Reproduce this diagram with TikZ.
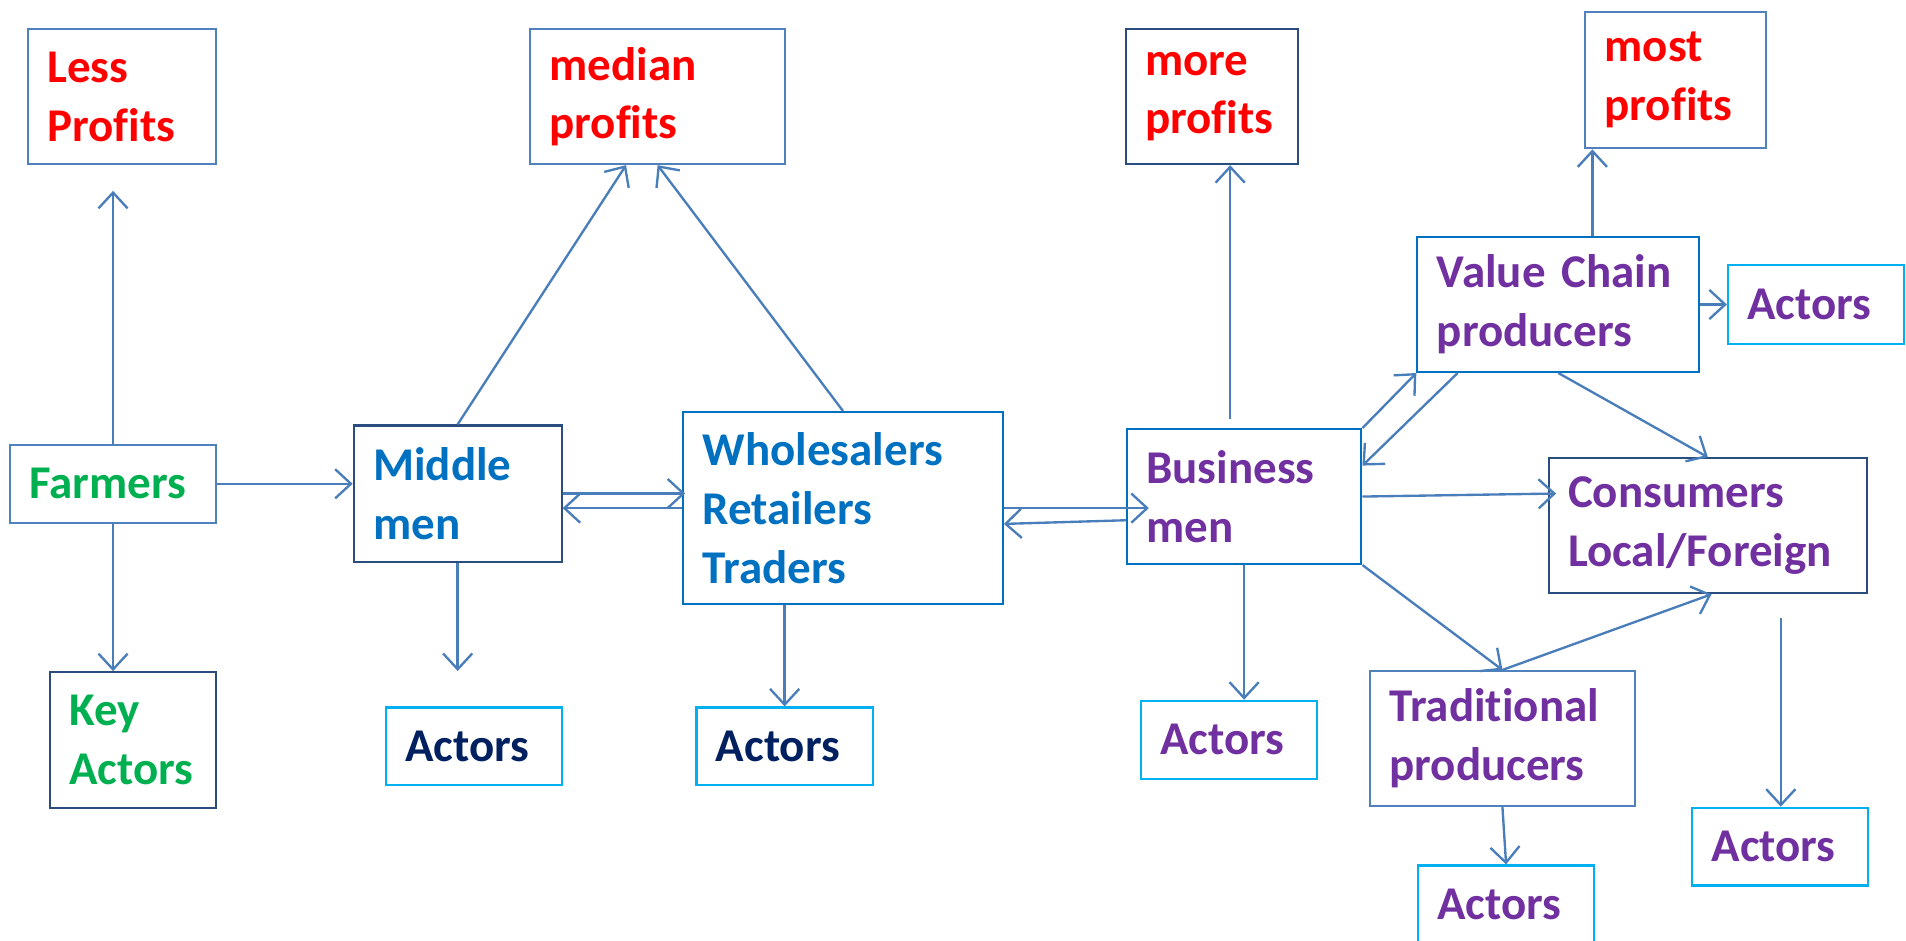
\documentclass[tikz,border=0pt]{standalone}
\usepackage{fontspec}
\setmainfont[Ligatures=NoCommon]{Carlito}
\usetikzlibrary{arrows.meta}

\definecolor{linkblue}{HTML}{4A7EBB}
\definecolor{steel}{HTML}{4F81BD}
\definecolor{navyline}{HTML}{2B4C7E}
\definecolor{midblue}{HTML}{0070C0}
\definecolor{skyline}{HTML}{00B0F0}
\definecolor{profitred}{HTML}{FF0000}
\definecolor{farmgreen}{HTML}{00B050}
\definecolor{navytext}{HTML}{002060}
\definecolor{chainpurple}{HTML}{7030A0}

\begin{document}
\begin{tikzpicture}[
    x=0.02cm, y=-0.02cm,
    box/.style={draw, rectangle, line width=1pt, inner xsep=0.32cm, inner ysep=0pt,
                align=left, font=\bfseries\fontsize{22}{27.5}\selectfont},
    profit/.style={box, text=profitred},
    actor/.style={box, draw=skyline, minimum height=1.28cm, text width=2.26cm},
    link/.style={draw=linkblue, line width=1.1pt, -{Straight Barb[length=2.6mm, width=4.8mm]}}
]
    \useasboundingbox (0,0) rectangle (1568,774);

    % --- profit levels (top row) ---
    \node[profit, draw=steel, text width=2.46cm, minimum height=2.22cm] (less) at (100.5,79.5) {Less\\Profits};
    \node[profit, draw=steel, text width=3.56cm, minimum height=2.22cm] (median) at (541,79.5) {median\\profits};
    \node[profit, draw=navyline, text width=2.20cm, minimum height=2.22cm] (more) at (997,79.5) {more\\profits};
    \node[profit, draw=steel, text width=2.34cm, minimum height=2.24cm] (most) at (1378.5,66) {most\\profits};

    % --- farmers ---
    \node[box, draw=steel, text=farmgreen, text width=2.76cm, minimum height=1.28cm] (farmers) at (93,398) {Farmers};
    \node[box, draw=navyline, text=farmgreen, text width=2.10cm, minimum height=2.24cm] (key) at (109.5,609) {Key\\Actors};

    % --- middle men and traders ---
    \node[box, draw=navyline, text=midblue, text width=2.78cm, minimum height=2.24cm] (middle) at (376.5,406) {Middle\\men};
    \node[box, draw=midblue, text=midblue, text width=4.62cm, minimum height=3.16cm] (whole) at (693.5,418) {Wholesalers\\Retailers\\Traders};
    \node[actor, text=navytext] (actMid) at (390,614) {Actors};
    \node[actor, text=navytext] (actWhole) at (645.5,614) {Actors};

    % --- business side ---
    \node[box, draw=midblue, text=chainpurple, text width=3.22cm, minimum height=2.22cm] (busi) at (1023.5,408.5) {Business\\men};
    \node[actor, text=chainpurple] (actBusi) at (1011,608.5) {Actors};
    \node[box, draw=midblue, text=chainpurple, text width=4.00cm, minimum height=2.22cm] (vcp) at (1282,250.5) {Value Chain\\producers};
    \node[actor, text=chainpurple, minimum height=1.30cm] (actVcp) at (1494,250.5) {Actors};
    \node[box, draw=navyline, text=chainpurple, text width=4.60cm, minimum height=2.22cm] (cons) at (1405,432.5) {Consumers\\Local/Foreign};
    \node[box, draw=steel, text=chainpurple, text width=3.72cm, minimum height=2.22cm] (trad) at (1236,607.5) {Traditional\\producers};
    \node[actor, text=chainpurple] (actTrad) at (1239,744) {Actors};
    \node[actor, text=chainpurple] (actCons) at (1464.5,696.5) {Actors};

    % free ends
    \coordinate (lessTip) at (93,157);
    \coordinate (midTip) at (376.5,552);
    \coordinate (moreTail) at (1012,345);
    \coordinate (consTail) at (1465,508);

    % --- connectors ---
    \draw[link] (farmers.north) -- (lessTip);
    \draw[link] (farmers.south) -- (farmers.south |- key.north);
    \draw[link] (farmers.east) -- (farmers.east -| middle.west);

    \draw[link] (middle.north) -- ([xshift=-0.52cm]median.south);
    \draw[link] (whole.north) -- (median.south);
    \draw[link] (middle.east) -- ([xshift=0.05cm]middle.east -| whole.west);
    \draw[link] (whole.west) -- (whole.west -| middle.east);
    \draw[link] (middle.south) -- (midTip);
    \draw[link] (actWhole.north |- whole.south) -- (actWhole.north);

    \draw[link] (whole.east) -- ([xshift=0.38cm]whole.east -| busi.west);
    \draw[link] ([yshift=-0.39cm]busi.west) -- ([yshift=-0.26cm]whole.east);
    \draw[link] (moreTail) -- (moreTail |- more.south);
    \draw[link] (busi.south) -- (busi.south |- actBusi.north);

    \draw[link] (busi.north east) -- (vcp.south west);
    \draw[link] ([xshift=0.68cm]vcp.south west) -- ([yshift=0.51cm]busi.east);
    \draw[link] (busi.east) -- ([xshift=0.14cm,yshift=0.53cm]cons.west);
    \draw[link] (busi.south east) -- (trad.north);
    \draw[link] (trad.north) -- ([xshift=0.06cm]cons.south);
    \draw[link] (vcp.south) -- (cons.north);
    \draw[link] ([xshift=0.56cm]vcp.north) -- ([xshift=0.56cm]vcp.north |- most.south);
    \draw[link] (vcp.east) -- (actVcp.west);
    \draw[link] (trad.south) -- (actTrad.north);
    \draw[link] (consTail) -- (consTail |- actCons.north);

\end{tikzpicture}
\end{document}
